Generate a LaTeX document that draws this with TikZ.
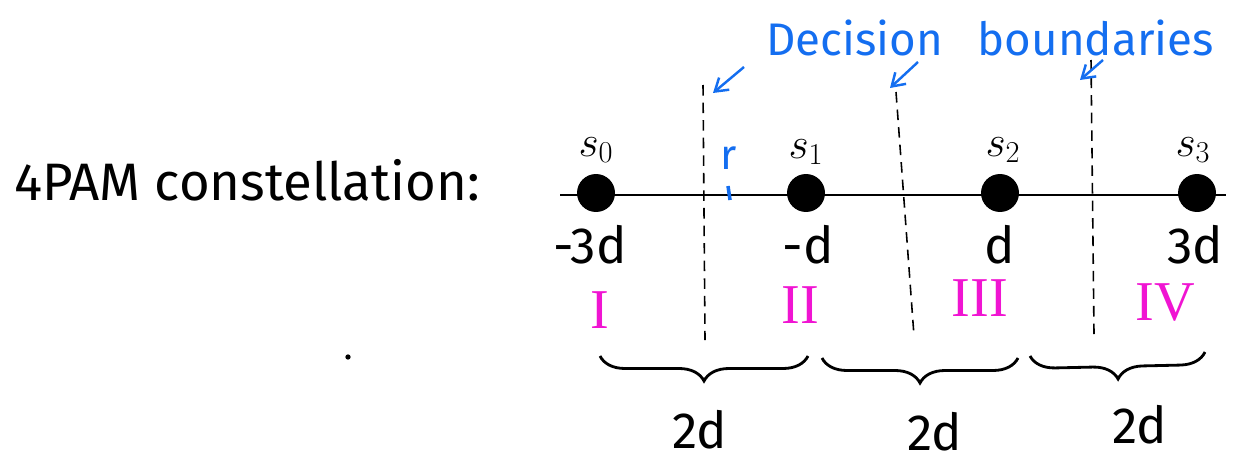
\documentclass[tikz,border=0pt]{standalone}
\usepackage{fontspec}
\setmainfont{Fira Sans}
\newfontfamily\numeralfont{Liberation Serif}
\usetikzlibrary{decorations.pathreplacing,arrows.meta}
\definecolor{inkblue}{RGB}{20,110,240}
\definecolor{inkpink}{RGB}{240,20,210}
\begin{document}
\begin{tikzpicture}[x=0.02cm, y=-0.02cm,
  point/.style={circle, fill=black, minimum size=0.76cm, inner sep=0pt},
  symlabel/.style={font=\fontsize{27}{30}\selectfont, inner sep=1pt},
  ampl/.style={font=\fontsize{29}{34}\selectfont, inner sep=1pt},
  region/.style={text=inkpink, font=\numeralfont\fontsize{32}{36}\selectfont},
  boundary/.style={dash pattern=on 6pt off 4pt, line width=0.9pt},
  pointer/.style={inkblue, line width=1.4pt, -{Straight Barb[length=7pt,width=9pt]}},
  spanbrace/.style={decorate, decoration={brace, mirror, amplitude=0.5cm}, line width=1.6pt}]
\useasboundingbox (0,0) rectangle (1236,463);
% title
\node[anchor=west, font=\fontsize{30}{36}\selectfont] (title) at (8,180) {4PAM constellation:};
\fill (348,357) circle (1.5pt);
% axis and points
\coordinate (axisL) at (560,195);
\coordinate (axisR) at (1226,195);
\draw[line width=1.4pt] (axisL) -- (axisR);
\node[point] (s0) at (596,193) {};
\node[point] (s1) at (806,193) {};
\node[point] (s2) at (1000,193) {};
\node[point] (s3) at (1197,193) {};
\node[symlabel] (l0) at (596,150) {$s_0$};
\node[symlabel] (l1) at (806,152) {$s_1$};
\node[symlabel] (l2) at (1003,150) {$s_2$};
\node[symlabel] (l3) at (1193,150) {$s_3$};
\node[ampl] (v0) at (590,245) {-3d};
\node[ampl] (v1) at (808,245) {-d};
\node[ampl] (v2) at (1000,245) {d};
\node[ampl] (v3) at (1195,245) {3d};
% received sample
\node[text=inkblue, font=\fontsize{24}{28}\selectfont] (r) at (729,158) {r};
\coordinate (rtop) at (728,186);
\coordinate (rbot) at (730,200);
\draw[inkblue, line width=2pt] (rtop) -- (rbot);
% decision boundaries
\coordinate (b1top) at (703,85);
\coordinate (b1bot) at (705,340);
\coordinate (b2top) at (896,92);
\coordinate (b2bot) at (914,336);
\coordinate (b3top) at (1091,60);
\coordinate (b3bot) at (1094,334);
\draw[boundary] (b1top) -- (b1bot);
\draw[boundary] (b2top) -- (b2bot);
\draw[boundary] (b3top) -- (b3bot);
\node[text=inkblue, font=\fontsize{26}{30}\selectfont, inner sep=1pt] (dec) at (990,38) {Decision\hspace{0.7cm}boundaries};
\coordinate (a1) at (744,67);
\coordinate (a2) at (918,62);
\coordinate (a3) at (1103,60);
\draw[pointer] (a1) -- ([shift={(10,8)}]b1top);
\draw[pointer] (a2) -- ([shift={(-6,-4)}]b2top);
\draw[pointer] (a3) -- ([shift={(-11,20)}]b3top);
% regions
\node[region] (R1) at (600,310) {I};
\node[region] (R2) at (800,305) {II};
\node[region] (R3) at (980,298) {III};
\node[region] (R4) at (1165,303) {IV};
% spacing
\coordinate (c0) at (600,356);
\coordinate (c1) at (808,356);
\coordinate (c2) at (822,358);
\coordinate (c3) at (1018,358);
\coordinate (c4) at (1030,356);
\coordinate (c5) at (1205,352);
\draw[spanbrace] (c0) -- (c1);
\draw[spanbrace] (c2) -- (c3);
\draw[spanbrace] (c4) -- (c5);
\node[ampl] (g1) at (700,430) {2d};
\node[ampl] (g2) at (935,432) {2d};
\node[ampl] (g3) at (1140,425) {2d};
\end{tikzpicture}
\end{document}
